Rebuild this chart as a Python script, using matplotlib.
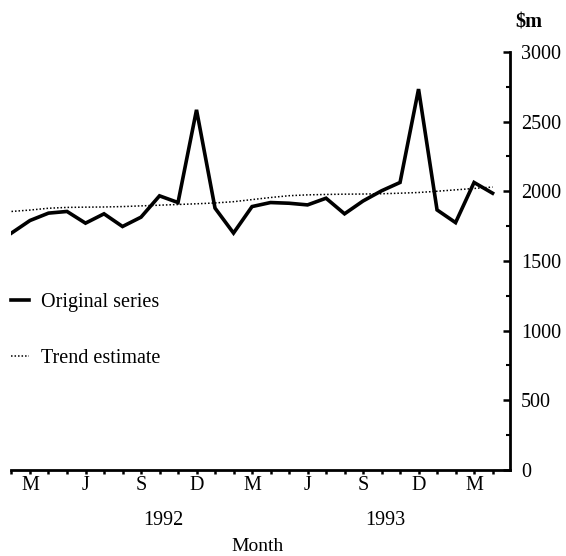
import matplotlib
matplotlib.use("Agg")
import matplotlib.pyplot as plt
from matplotlib.ticker import MultipleLocator, FixedLocator, FixedFormatter

plt.rcParams['font.family'] = ['Liberation Serif', 'DejaVu Serif']

# Months Feb 1992 .. Apr 1994
months = ['F', 'M', 'A', 'M', 'J', 'J', 'A', 'S', 'O', 'N', 'D', 'J',
          'F', 'M', 'A', 'M', 'J', 'J', 'A', 'S', 'O', 'N', 'D', 'J',
          'F', 'M', 'A']
original = [1700, 1790, 1843, 1855, 1771, 1838, 1747, 1814, 1967, 1919,
            2584, 1879, 1700, 1890, 1919, 1914, 1902, 1950, 1838, 1930,
            2003, 2063, 2733, 1866, 1775, 2063, 1986]
trend = [1855, 1865, 1878, 1884, 1886, 1887, 1890, 1895, 1900, 1905,
         1910, 1916, 1925, 1940, 1955, 1968, 1974, 1977, 1979, 1980,
         1982, 1986, 1991, 2000, 2010, 2020, 2030]
tick_labels = ['M', 'J', 'S', 'D', 'M', 'J', 'S', 'D', 'M']
label_idx = [1, 4, 7, 10, 13, 16, 19, 22, 25]
years = ['1992', '1993']
year_pos = [8.2, 20.2]

x = list(range(len(original)))
FS = 14.5

fig = plt.figure(figsize=(5.66, 5.56), dpi=100)
ax = fig.add_axes([0.0203, 0.1547, 0.881, 0.752])

l1, = ax.plot(x, original, color='black', lw=2.6, solid_joinstyle='miter')
l2, = ax.plot(x, trend, color='black', lw=1.1, ls=(0, (1, 1.3)))

ax.set_xlim(0, 26.95)
ax.set_ylim(0, 3000)

for s in ['left', 'top']:
    ax.spines[s].set_visible(False)
ax.spines['right'].set_linewidth(2.0)
ax.spines['bottom'].set_linewidth(2.0)

ax.yaxis.tick_right()
ax.yaxis.set_major_locator(MultipleLocator(500))
ax.yaxis.set_minor_locator(MultipleLocator(250))
ax.tick_params(axis='y', which='major', direction='in', length=5, width=1.8,
               labelsize=FS, pad=8)
ax.tick_params(axis='y', which='minor', direction='in', length=3, width=1.5)

ax.xaxis.set_major_locator(FixedLocator(label_idx))
ax.xaxis.set_major_formatter(FixedFormatter(tick_labels))
ax.xaxis.set_minor_locator(FixedLocator(x))
ax.tick_params(axis='x', which='both', direction='out', length=3, width=1.8,
               labelsize=FS, pad=1)

for yl, yp in zip(years, year_pos):
    ax.text(yp, -0.12, yl, transform=ax.get_xaxis_transform(), ha='center',
            va='center', fontsize=FS)
ax.text(13.3, -0.182, 'Month', transform=ax.get_xaxis_transform(),
        ha='center', va='center', fontsize=14)
ax.text(1.01, 1.07, '$m', transform=ax.transAxes, ha='left', va='center',
        fontsize=FS, fontweight='bold')

leg = fig.legend([l1, l2], ['Original series', 'Trend estimate'],
                 loc='upper left', bbox_to_anchor=(0.005, 0.488),
                 frameon=False, fontsize=FS, handlelength=0.9,
                 labelspacing=1.85, handletextpad=0.6, borderaxespad=0)

fig.savefig('out.png', dpi=100)
